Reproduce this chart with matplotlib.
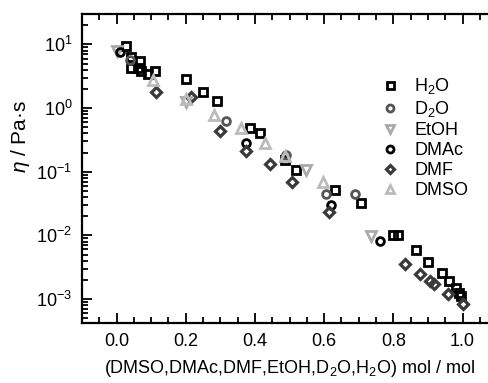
import matplotlib
matplotlib.use("Agg")
import matplotlib.pyplot as plt
from matplotlib.ticker import MultipleLocator, LogLocator, NullFormatter

plt.rcParams['font.family'] = ['Liberation Sans', 'DejaVu Sans']
plt.rcParams['mathtext.fontset'] = 'custom'
plt.rcParams['mathtext.rm'] = 'Liberation Sans'
plt.rcParams['mathtext.it'] = 'Liberation Sans:italic'
plt.rcParams['mathtext.default'] = 'regular'

h2o_x = [0.028, 0.042, 0.042, 0.062, 0.069, 0.071, 0.09, 0.11, 0.20, 0.25, 0.291, 0.386, 0.415,
         0.486, 0.518, 0.632, 0.707, 0.80, 0.813, 0.866, 0.90, 0.941, 0.962, 0.98, 0.991, 0.996]
h2o_y = [9.6, 6.3, 4.2, 4.3, 5.5, 3.8, 3.4, 3.8, 2.9, 1.76, 1.3, 0.48, 0.40,
         0.15, 0.106, 0.052, 0.032, 0.010, 0.010, 0.0059, 0.0038, 0.0026, 0.0019, 0.0015, 0.00125, 0.0011]

d2o_x = [0.04, 0.315, 0.49, 0.606, 0.688]
d2o_y = [5.6, 0.63, 0.185, 0.045, 0.045]

etoh_x = [0.0, 0.2, 0.548, 0.736]
etoh_y = [8.0, 1.25, 0.105, 0.0098]

dmac_x = [0.01, 0.373, 0.62, 0.762]
dmac_y = [7.5, 0.28, 0.030, 0.0081]

dmf_x = [0.113, 0.216, 0.298, 0.375, 0.442, 0.507, 0.614, 0.834, 0.876, 0.905, 0.916, 0.958, 1.0]
dmf_y = [1.8, 1.47, 0.44, 0.21, 0.13, 0.068, 0.023, 0.0035, 0.0025, 0.0019, 0.0017, 0.0012, 0.00083]

dmso_x = [0.105, 0.2, 0.281, 0.36, 0.428, 0.488, 0.596]
dmso_y = [2.8, 1.37, 0.78, 0.48, 0.28, 0.178, 0.07]

fig = plt.figure(figsize=(4.89, 3.83), dpi=100)
ax = fig.add_axes([0.1677, 0.1567, 0.849, 0.8067])

ms = 5.6
mew = 2.0
ax.plot(h2o_x, h2o_y, 's', mfc='none', mec='black', ms=ms, mew=mew, label='H$_2$O')
ax.plot(d2o_x, d2o_y, 'o', mfc='none', mec='#555555', ms=ms, mew=mew, label='D$_2$O')
ax.plot(etoh_x, etoh_y, 'v', mfc='none', mec='#aaaaaa', ms=ms + 1.2, mew=mew, label='EtOH')
ax.plot(dmac_x, dmac_y, 'o', mfc='none', mec='black', ms=ms, mew=mew, label='DMAc')
ax.plot(dmf_x, dmf_y, 'D', mfc='none', mec='#3a3a3a', ms=ms - 0.6, mew=mew + 0.3, label='DMF')
ax.plot(dmso_x, dmso_y, '^', mfc='none', mec='#bbbbbb', ms=ms + 1.2, mew=mew, label='DMSO')

ax.set_yscale('log')
ax.set_xlim(-0.1, 1.1)
ax.set_ylim(4.2e-4, 30)
ax.xaxis.set_major_locator(MultipleLocator(0.2))
ax.xaxis.set_minor_locator(MultipleLocator(0.05))
ax.yaxis.set_major_locator(LogLocator(base=10, numticks=20))
ax.yaxis.set_minor_locator(LogLocator(base=10, subs=range(2, 10), numticks=20))
ax.yaxis.set_minor_formatter(NullFormatter())
ax.set_xticks([0.0, 0.2, 0.4, 0.6, 0.8, 1.0])
ax.set_xticklabels(['0.0', '0.2', '0.4', '0.6', '0.8', '1.0'])

for s in ax.spines.values():
    s.set_linewidth(1.6)
ax.tick_params(which='both', direction='in', top=True, right=False, width=1.3, labelsize=13)
ax.tick_params(which='major', length=7, pad=7)
ax.tick_params(which='minor', length=4)

ax.set_xlabel('(DMSO,DMAc,DMF,EtOH,D$_2$O,H$_2$O) mol / mol', fontsize=13, labelpad=6)
ax.set_ylabel('$\\mathit{\\eta}$ / Pa·s', fontsize=15)
ax.yaxis.set_label_coords(-0.12, 0.605)

leg = ax.legend(loc='upper left', bbox_to_anchor=(372 / 489, 1 - 67 / 383),
                bbox_transform=fig.transFigure, frameon=False, fontsize=13,
                handlelength=1.0, handletextpad=0.85, labelspacing=0.17, borderpad=0,
                markerscale=0.9)

fig.savefig('out.png', dpi=100)
